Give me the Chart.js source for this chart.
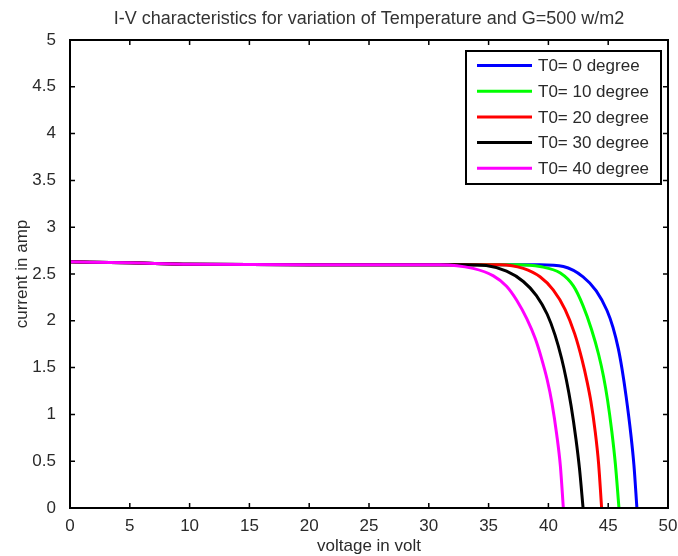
<!DOCTYPE html>
<html>
<head>
<meta charset="utf-8">
<script src="https://cdn.jsdelivr.net/npm/chart.js@4.4.1/dist/chart.umd.min.js"></script>
<style>
  html, body { margin: 0; padding: 0; background: #fff; }
  #wrap { width: 678px; height: 556px; }
</style>
</head>
<body>
<div id="wrap"><canvas id="iv"></canvas></div>
<script>
/* I-V curves, G = 500 w/m2, one pair of arrays per temperature */
const TITLE = 'I-V characteristics for variation of Temperature and G=500 w/m2';
const LABELS = ['T0= 0 degree', 'T0= 10 degree', 'T0= 20 degree', 'T0= 30 degree', 'T0= 40 degree'];
const COLORS = ['#0000ff', '#00ff00', '#ff0000', '#000000', '#ff00ff'];

const V_T0  = [0, 5, 10, 20, 30, 36, 39.3, 41.25, 42.9, 44.0, 44.9, 45.4, 45.85, 46.15, 46.5, 46.9, 47.15, 47.4];
const I_T0  = [2.63, 2.62, 2.605, 2.6, 2.6, 2.6, 2.6, 2.58, 2.47, 2.32, 2.11, 1.93, 1.70, 1.49, 1.19, 0.78, 0.46, 0];
const V_T10 = [0, 5, 10, 20, 30, 35, 37.5, 39.3, 41.0, 42.1, 42.9, 43.6, 44.2, 44.6, 44.95, 45.3, 45.6, 45.9];
const I_T10 = [2.63, 2.62, 2.605, 2.6, 2.6, 2.6, 2.6, 2.58, 2.51, 2.37, 2.16, 1.91, 1.64, 1.41, 1.15, 0.82, 0.47, 0];
const V_T20 = [0, 5, 10, 20, 30, 34, 36, 37.9, 39.3, 40.4, 41.4, 42.2, 42.8, 43.25, 43.55, 43.9, 44.2, 44.45];
const I_T20 = [2.63, 2.62, 2.605, 2.6, 2.6, 2.6, 2.6, 2.56, 2.47, 2.33, 2.12, 1.86, 1.59, 1.34, 1.14, 0.83, 0.47, 0];
const V_T30 = [0, 5, 10, 20, 30, 33, 34.8, 36.5, 37.9, 39.0, 39.9, 40.55, 41.1, 41.5, 41.9, 42.3, 42.6, 42.9];
const I_T30 = [2.63, 2.62, 2.605, 2.6, 2.6, 2.6, 2.59, 2.53, 2.42, 2.27, 2.07, 1.85, 1.60, 1.37, 1.09, 0.74, 0.42, 0];
const V_T40 = [0, 5, 10, 20, 28, 30.9, 33.7, 35.4, 36.5, 37.35, 38.2, 38.9, 39.4, 39.9, 40.3, 40.7, 41.0, 41.25];
const I_T40 = [2.63, 2.62, 2.605, 2.6, 2.6, 2.6, 2.56, 2.48, 2.37, 2.22, 2.02, 1.81, 1.61, 1.37, 1.12, 0.78, 0.45, 0];

const SERIES = [[V_T0, I_T0], [V_T10, I_T10], [V_T20, I_T20], [V_T30, I_T30], [V_T40, I_T40]];

const FONT = 'Liberation Sans, Arial, sans-serif';
const TXT = '#2a2a2a';

function pts(v, c) { return v.map((x, i) => ({ x, y: c[i] })); }

/* matlab style box with inward ticks on all four sides, title centred on the axes */
const boxPlugin = {
  id: 'box',
  afterDatasetsDraw(chart) {
    const { ctx, chartArea: a, scales: { x, y } } = chart;
    ctx.save();
    ctx.strokeStyle = '#000';
    ctx.lineWidth = 1.5;
    ctx.beginPath();
    x.ticks.forEach(t => {
      const px = x.getPixelForValue(t.value);
      ctx.moveTo(px, a.bottom); ctx.lineTo(px, a.bottom - 5);
      ctx.moveTo(px, a.top); ctx.lineTo(px, a.top + 5);
    });
    y.ticks.forEach(t => {
      const py = y.getPixelForValue(t.value);
      ctx.moveTo(a.left, py); ctx.lineTo(a.left + 5, py);
      ctx.moveTo(a.right, py); ctx.lineTo(a.right - 5, py);
    });
    ctx.stroke();
    ctx.lineWidth = 2;
    ctx.strokeRect(a.left, a.top, a.right - a.left, a.bottom - a.top);

    ctx.fillStyle = '#333';
    ctx.font = '18px ' + FONT;
    ctx.textAlign = 'center';
    ctx.textBaseline = 'middle';
    ctx.fillText(TITLE, (a.left + a.right) / 2, 19);
    ctx.restore();
  }
};

const legendPlugin = {
  id: 'boxLegend',
  afterDraw(chart) {
    const ctx = chart.ctx;
    const bx = 466, by = 51, bw = 195, bh = 133;
    ctx.save();
    ctx.fillStyle = '#fff';
    ctx.fillRect(bx, by, bw, bh);
    ctx.strokeStyle = '#000';
    ctx.lineWidth = 2;
    ctx.strokeRect(bx, by, bw, bh);
    ctx.font = '17px ' + FONT;
    ctx.textBaseline = 'middle';
    chart.data.datasets.forEach((ds, i) => {
      const ly = 65.5 + i * 25.7;
      ctx.strokeStyle = ds.borderColor;
      ctx.lineWidth = 3;
      ctx.beginPath(); ctx.moveTo(477, ly); ctx.lineTo(532, ly); ctx.stroke();
      ctx.fillStyle = TXT;
      ctx.fillText(ds.label, 538, ly + 1);
    });
    ctx.restore();
  }
};

new Chart(document.getElementById('iv'), {
  type: 'line',
  data: {
    datasets: SERIES.map((s, i) => ({
      label: LABELS[i],
      data: pts(s[0], s[1]),
      borderColor: COLORS[i],
      backgroundColor: COLORS[i],
      borderWidth: 3,
      pointRadius: 0,
      cubicInterpolationMode: 'monotone',
      order: 5 - i
    }))
  },
  options: {
    responsive: true,
    maintainAspectRatio: false,
    animation: false,
    layout: { padding: { top: 40, right: 10, left: 0, bottom: 0 } },
    plugins: {
      legend: { display: false },
      tooltip: { enabled: false },
      title: { display: false }
    },
    scales: {
      x: {
        type: 'linear', min: 0, max: 50,
        afterFit: s => { s.height = 48; },
        grid: { display: false },
        border: { display: false },
        ticks: { stepSize: 5, color: TXT, padding: 0, maxRotation: 0, font: { family: FONT, size: 17 } },
        title: { display: true, text: 'voltage in volt', color: TXT, font: { family: FONT, size: 17 }, padding: { top: 0, bottom: -1 } }
      },
      y: {
        min: 0, max: 5,
        afterFit: s => { s.width = 70; },
        grid: { display: false },
        border: { display: false },
        ticks: { stepSize: 0.5, color: TXT, padding: 6, font: { family: FONT, size: 17 }, callback: v => String(Number(v.toFixed(1))) },
        title: { display: true, text: 'current in amp', color: TXT, font: { family: FONT, size: 17 }, padding: { top: 12, bottom: 0 } }
      }
    }
  },
  plugins: [boxPlugin, legendPlugin]
});
</script>
</body>
</html>
